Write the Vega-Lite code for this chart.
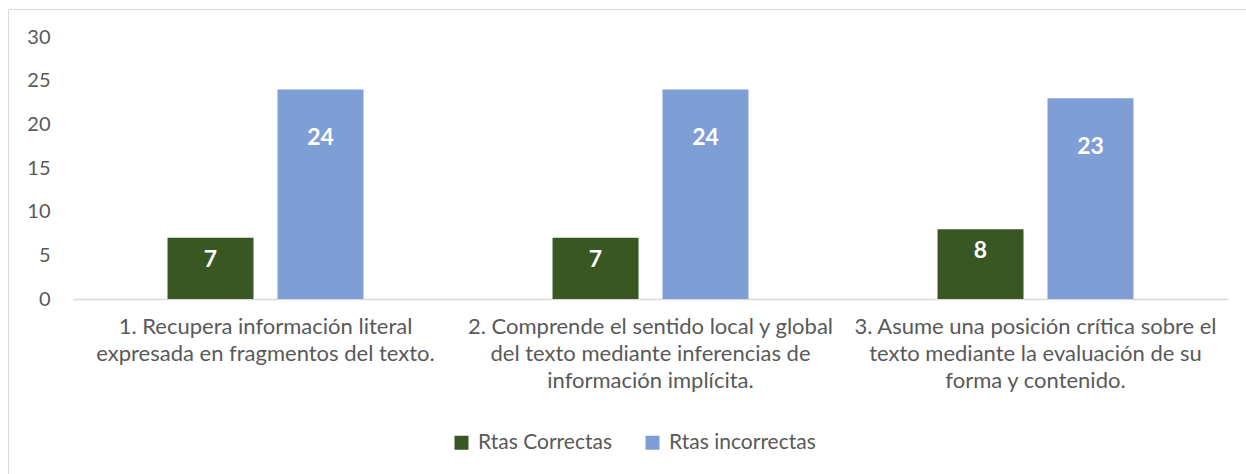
{
  "$schema": "https://vega.github.io/schema/vega-lite/v6.json",
  "width": 1238,
  "height": 465,
  "autosize": {"type": "none"},
  "padding": {"left": 8, "top": 9, "right": 0, "bottom": 0},
  "background": "white",
  "config": {"view": {"stroke": "#d9d9d9", "strokeWidth": 1}, "font": "Lato"},
  "data": {"values": [
    {"categoria": "1. Recupera información literal|expresada en fragmentos del texto.", "serie": "Rtas Correctas", "valor": 7},
    {"categoria": "1. Recupera información literal|expresada en fragmentos del texto.", "serie": "Rtas incorrectas", "valor": 24},
    {"categoria": "2. Comprende el sentido local y global|del texto mediante inferencias de|información implícita.", "serie": "Rtas Correctas", "valor": 7},
    {"categoria": "2. Comprende el sentido local y global|del texto mediante inferencias de|información implícita.", "serie": "Rtas incorrectas", "valor": 24},
    {"categoria": "3. Asume una posición crítica sobre el|texto mediante la evaluación de su|forma y contenido.", "serie": "Rtas Correctas", "valor": 8},
    {"categoria": "3. Asume una posición crítica sobre el|texto mediante la evaluación de su|forma y contenido.", "serie": "Rtas incorrectas", "valor": 23}
  ]},
  "encoding": {
    "x": {
      "field": "categoria", "type": "nominal", "sort": null,
      "scale": {"range": [65, 1220], "paddingInner": 0.491, "paddingOuter": 0.2455, "round": false},
      "axis": {
        "title": null, "orient": "bottom", "offset": -175,
        "domainColor": "#d9d9d9", "domainWidth": 1.5, "ticks": false, "grid": false,
        "labelAngle": 0, "labelExpr": "split(datum.label, '|')",
        "labelFont": "Lato", "labelFontSize": 22, "labelColor": "#595959",
        "labelLineHeight": 27, "labelPadding": 17, "labelLimit": 500,
        "labelOverlap": false, "labelBaseline": "top"
      }
    },
    "xOffset": {
      "field": "serie", "type": "nominal",
      "scale": {"domain": ["Rtas Correctas", "Rtas incorrectas"], "paddingInner": 0.218, "paddingOuter": 0}
    },
    "y": {
      "field": "valor", "type": "quantitative",
      "scale": {"domain": [0, 30], "range": [290, 28], "nice": false},
      "axis": {
        "title": null, "values": [0, 5, 10, 15, 20, 25, 30],
        "domain": false, "ticks": false, "grid": false,
        "offset": -42, "labelPadding": 0,
        "labelFont": "Lato", "labelFontSize": 20, "labelColor": "#595959"
      }
    }
  },
  "layer": [
    {
      "mark": {"type": "bar"},
      "encoding": {
        "color": {
          "field": "serie", "type": "nominal",
          "scale": {"domain": ["Rtas Correctas", "Rtas incorrectas"], "range": ["#385723", "#7F9ED6"]},
          "legend": {
            "orient": "none", "legendX": 443, "legendY": 423, "direction": "horizontal",
            "title": null, "symbolType": "square", "symbolSize": 196, "symbolStrokeWidth": 0,
            "labelFont": "Lato", "labelFontSize": 21, "labelColor": "#595959",
            "labelOffset": 6, "columnPadding": 30, "padding": 0
          }
        }
      }
    },
    {
      "transform": [{"filter": "datum.serie == 'Rtas Correctas'"}],
      "mark": {"type": "text", "color": "white", "fontWeight": "bold", "fontSize": 23, "font": "Lato", "baseline": "middle", "dy": 22},
      "encoding": {"text": {"field": "valor", "type": "quantitative"}}
    },
    {
      "transform": [{"filter": "datum.serie == 'Rtas incorrectas'"}],
      "mark": {"type": "text", "color": "white", "fontWeight": "bold", "fontSize": 23, "font": "Lato", "baseline": "middle", "dy": 49},
      "encoding": {"text": {"field": "valor", "type": "quantitative"}}
    }
  ]
}
